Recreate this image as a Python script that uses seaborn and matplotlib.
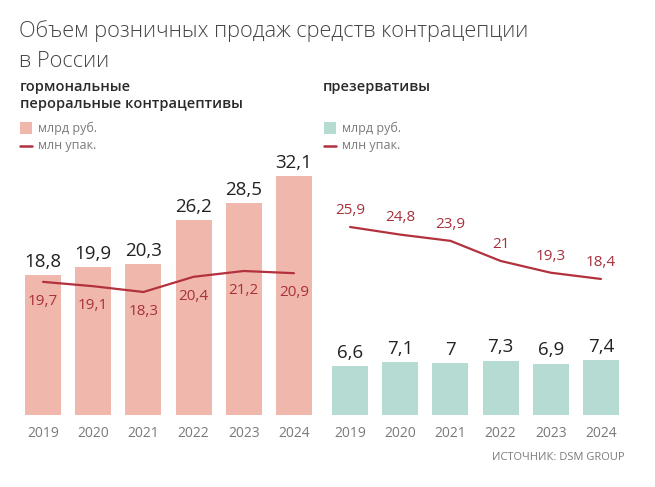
import matplotlib
matplotlib.use("Agg")
import matplotlib.pyplot as plt
import seaborn as sns
import pandas as pd
from matplotlib.patches import Rectangle
from matplotlib.lines import Line2D

years = ["2019", "2020", "2021", "2022", "2023", "2024"]
hormonal_rub = [18.8, 19.9, 20.3, 26.2, 28.5, 32.1]
hormonal_pack = [19.7, 19.1, 18.3, 20.4, 21.2, 20.9]
condom_rub = [6.6, 7.1, 7.0, 7.3, 6.9, 7.4]
condom_pack = [25.9, 24.8, 23.9, 21.0, 19.3, 18.4]

title_lines = ["Объем розничных продаж средств контрацепции", "в России"]
left_title = "гормональные\nпероральные контрацептивы"
right_title = "презервативы"
legend_bar = "млрд руб."
legend_line = "млн упак."
source = "ИСТОЧНИК: DSM GROUP"

PINK = "#f0b8ad"
TEAL = "#b5dbd3"
LINE = "#b3313d"
LBL = "#a8303c"
GRAY = "#7a7a7a"

sns.set_theme(style="white")
plt.rcParams["font.family"] = ["Open Sans", "DejaVu Sans"]

W, H = 655, 487
fig = plt.figure(figsize=(W / 100, H / 100), dpi=100)
fig.patch.set_facecolor("white")

def fx(px):
    return px / W

def fy(py):
    return 1 - py / H

ax_top, ax_bot = 115, 415
bar_scale = 7.45

def make_panel(left_px, right_px, rub, pack, color, line_lim, label_below):
    ax = fig.add_axes([fx(left_px), fy(ax_bot), fx(right_px - left_px), (ax_bot - ax_top) / H])
    df = pd.DataFrame({"year": years, "rub": rub, "pack": pack})
    sns.barplot(data=df, x="year", y="rub", color=color, width=0.72, ax=ax,
                saturation=1, edgecolor="none")
    ax.set_ylim(0, (ax_bot - ax_top) / bar_scale)
    ax.set_xlim(-0.5, 5.5)
    for i, v in enumerate(rub):
        ax.annotate(f"{v:g}".replace(".", ","), (i, v), xytext=(0, 3),
                    textcoords="offset points", ha="center", va="bottom",
                    fontsize=13.5, color="#222222", fontweight="medium")
    ax2 = ax.twinx()
    sns.lineplot(data=df, x="year", y="pack", color=LINE, linewidth=1.6, ax=ax2,
                 legend=False)
    ax2.set_ylim(*line_lim)
    for i, v in enumerate(pack):
        off = -14 if label_below else 12
        ax2.annotate(f"{v:g}".replace(".", ","), (i, v), xytext=(0, off),
                     textcoords="offset points", ha="center", va="center",
                     fontsize=11, color=LBL)
    for a in (ax, ax2):
        for s in a.spines.values():
            s.set_visible(False)
        a.set_yticks([])
        a.set_ylabel("")
        a.set_xlabel("")
    ax.tick_params(axis="x", length=0, pad=8, labelsize=10, labelcolor=GRAY)
    ax2.tick_params(axis="x", length=0)
    return ax

make_panel(18, 319, hormonal_rub, hormonal_pack, PINK, (1.31, 42.75), True)
make_panel(325, 626, condom_rub, condom_pack, TEAL, (-1.23, 42.06), False)

# Title, two lines at the reference baselines
tfam = ["Open Sans", "DejaVu Sans"]
t1 = fig.text(fx(19), fy(37), title_lines[0], ha="left", va="baseline",
              fontsize=20, color="#454545", fontweight="light", family=tfam)
fig.canvas.draw()
w = t1.get_window_extent().width
fs = 20 * 510.0 / w
t1.set_fontsize(fs)
fig.text(fx(19), fy(67), title_lines[1], ha="left", va="baseline",
         fontsize=fs, color="#454545", fontweight="light", family=tfam)

fig.text(fx(20), fy(80), left_title, ha="left", va="top", fontsize=10.5,
         color="#2a2a2a", fontweight="semibold", linespacing=1.3)
fig.text(fx(323), fy(80), right_title, ha="left", va="top", fontsize=10.5,
         color="#2a2a2a", fontweight="semibold")

for x0, col in ((20, PINK), (324, TEAL)):
    fig.patches.append(Rectangle((fx(x0), fy(134)), fx(12), 12 / H,
                                 transform=fig.transFigure, facecolor=col,
                                 edgecolor="none"))
    fig.text(fx(x0 + 18), fy(128), legend_bar, ha="left", va="center",
             fontsize=9, color=GRAY)
    fig.lines.append(Line2D([fx(x0), fx(x0 + 12)], [fy(146), fy(146)],
                            transform=fig.transFigure, color=LINE, linewidth=1.8))
    fig.text(fx(x0 + 18), fy(146), legend_line, ha="left", va="center",
             fontsize=9, color=GRAY)

fig.text(fx(625), fy(458), source, ha="right", va="center", fontsize=8,
         color=GRAY)

fig.savefig("out.png", dpi=100, facecolor="white")
